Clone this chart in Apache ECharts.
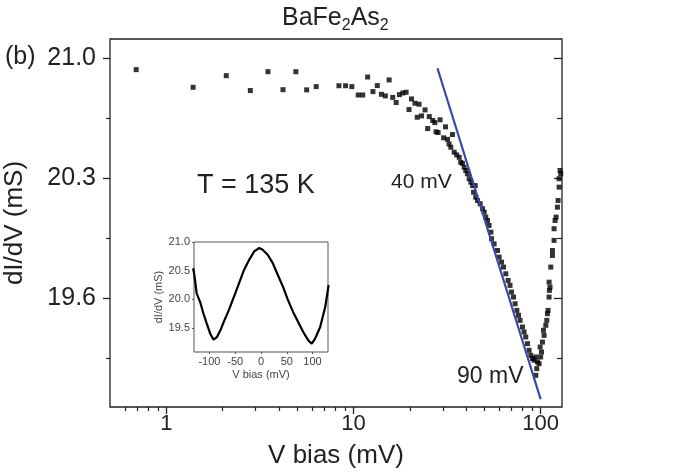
<!DOCTYPE html>
<html>
<head>
<meta charset="UTF-8">
<title>BaFe2As2 dI/dV</title>
<script src="https://cdn.jsdelivr.net/npm/echarts@6/dist/echarts.min.js"></script>
<style>
  html, body { margin: 0; padding: 0; background: #fff; }
  #main { width: 685px; height: 476px; }
</style>
</head>
<body>
<div id="main"></div>
<script>
  // main panel: dI/dV vs V bias (log), T = 135 K
  const vBias = [
    0.69, 1.39, 2.09, 2.81, 3.49, 4.20, 4.92, 5.62, 6.32, 8.36, 9.07, 9.80,
    10.6, 11.2, 11.9, 12.7, 13.4, 14.1, 14.8, 15.5, 16.2, 16.9, 17.6, 18.35,
    19.1, 19.8, 20.4, 21.3, 21.9, 22.4, 23.1, 24.1, 24.9, 25.4, 26.5, 27.2,
    27.6, 28.3, 29.0, 30.3, 31.0, 31.8, 32.4, 33.1, 33.8, 34.5, 35.6, 36.7,
    37.4, 38.2, 39.0, 39.8, 40.6, 41.5, 42.4, 43.3, 43.8, 44.7, 45.0, 46.0,
    47.5, 48.9, 49.9, 50.9, 52.0, 53.0, 54.2, 54.6, 56.4, 58.8, 60.0, 61.8,
    63.3, 65.1, 67.0, 68.6, 69.8, 71.6, 73.0, 74.6, 76.1, 77.6, 79.9, 81.5,
    83.2, 85.0, 86.7, 88.5, 90.4, 92.2, 94.2, 96.1, 98.1, 95.3, 94.2,
    100.0, 101.0, 99.3, 102.2, 104.3, 103.5, 106.5, 107.8, 108.7, 109.5, 110.9, 111.4,
    112.2, 110.9, 113.2, 115.6, 115.6, 117.9, 117.9, 119.4, 120.9, 122.9, 123.9, 125.4,
    125.4, 128.0, 126.9
  ];
  const dIdV = [
    20.934, 20.831, 20.899, 20.812, 20.922, 20.817, 20.922, 20.816, 20.835, 20.840, 20.840, 20.835,
    20.786, 20.786, 20.891, 20.806, 20.841, 20.790, 20.781, 20.874, 20.772, 20.742, 20.788, 20.798,
    20.802, 20.701, 20.763, 20.738, 20.656, 20.732, 20.664, 20.699, 20.590, 20.660, 20.637, 20.625,
    20.571, 20.567, 20.641, 20.536, 20.600, 20.527, 20.500, 20.481, 20.555, 20.452, 20.436, 20.422,
    20.393, 20.387, 20.364, 20.345, 20.326, 20.297, 20.277, 20.257, 20.218, 20.257, 20.189, 20.170,
    20.151, 20.122, 20.102, 20.073, 20.053, 20.024, 19.985, 19.947, 19.917, 19.878, 19.839, 19.810,
    19.781, 19.742, 19.703, 19.674, 19.635, 19.606, 19.567, 19.528, 19.499, 19.470, 19.431, 19.402,
    19.373, 19.334, 19.295, 19.266, 19.247, 19.237, 19.256, 19.227, 19.217, 19.188, 19.149,
    19.256, 19.285, 19.314, 19.343, 19.382, 19.412, 19.441, 19.470, 19.509, 19.528, 19.606, 19.645,
    19.664, 19.693, 19.781, 19.849, 19.878, 19.937, 20.005, 20.053, 20.073, 20.131, 20.170, 20.248,
    20.297, 20.326, 20.345
  ];
  // linear fit between 40 mV and 90 mV
  const fitV = [28.1, 100];
  const fitG = [20.942, 19.009];

  const xMajor = [1, 10, 100];
  const xMinor = [0.6, 0.7, 0.8, 0.9, 2, 3, 4, 5, 6, 7, 8, 9, 20, 30, 40, 50, 60, 70, 80, 90];
  const yMajor = [19.6, 20.3, 21.0];
  const yMinor = [19.25, 19.95, 20.65];

  // inset: full bias sweep
  const insetV = [
    -131.4, -128.0, -124.9, -118.2, -111.7, -105.2, -98.5, -92.0, -85.5, -78.8, -72.3, -62.4,
    -52.6, -42.7, -32.9, -23.0, -13.2, -3.3, 3.2, 13.0, 22.8, 32.7, 42.5, 52.4,
    62.2, 72.1, 81.9, 91.8, 98.5, 105.0, 114.8, 124.7, 131.2
  ];
  const insetG = [
    20.543, 20.337, 20.104, 19.956, 19.752, 19.576, 19.400, 19.295, 19.341, 19.459, 19.605, 19.810,
    20.044, 20.279, 20.513, 20.689, 20.835, 20.895, 20.865, 20.777, 20.631, 20.425, 20.220, 19.986,
    19.780, 19.605, 19.429, 19.283, 19.225, 19.313, 19.517, 19.868, 20.250
  ];
  const insetXTicks = [-100, -50, 0, 50, 100];
  const insetYTicks = [19.5, 20.0, 20.5, 21.0];

  const FONT = 'Liberation Sans';
  const INK = '#222';

  const chart = echarts.init(document.getElementById('main'), null, { renderer: 'canvas' });

  function tickAxis(extra) {
    return Object.assign({
      axisLine: { show: false, onZero: false },
      splitLine: { show: false },
      axisLabel: { show: false },
      axisTick: { show: false }
    }, extra);
  }

  chart.setOption({
    animation: false,
    backgroundColor: '#fff',
    title: {
      text: '{a|BaFe}{s|2}{a|As}{s|2}',
      left: 277,
      top: 1,
      textStyle: {
        fontWeight: 'normal',
        rich: {
          a: { fontFamily: FONT, fontSize: 25, fontWeight: 'normal', color: INK, lineHeight: 28, verticalAlign: 'top' },
          s: { fontFamily: FONT, fontSize: 16, fontWeight: 'normal', color: INK, lineHeight: 15, verticalAlign: 'bottom', padding: [19, 0, 0, 0] }
        }
      }
    },
    grid: [
      { left: 110, top: 39, width: 452, height: 368, outerBoundsMode: 'none', containLabel: false,
        show: true, borderColor: INK, borderWidth: 1.3, backgroundColor: 'transparent' },
      { left: 194, top: 242, width: 134, height: 110, outerBoundsMode: 'none', containLabel: false,
        show: true, borderColor: '#555', borderWidth: 1, backgroundColor: 'transparent' }
    ],
    xAxis: [
      tickAxis({
        gridIndex: 0, type: 'log', min: 0.5, max: 130, position: 'bottom',
        name: 'V bias (mV)', nameLocation: 'middle', nameGap: 36,
        nameTextStyle: { fontFamily: FONT, fontSize: 26, color: INK },
        axisTick: { show: true, length: 7, customValues: xMajor, lineStyle: { color: INK, width: 1.3 } },
        axisLabel: { show: true, customValues: xMajor, margin: 6, fontFamily: FONT, fontSize: 22, color: INK }
      }),
      tickAxis({
        gridIndex: 0, type: 'log', min: 0.5, max: 130, position: 'bottom',
        axisTick: { show: true, length: 4, customValues: xMinor, lineStyle: { color: INK, width: 1.2 } }
      }),
      tickAxis({
        gridIndex: 1, type: 'value', min: -130, max: 130, position: 'bottom',
        name: 'V bias (mV)', nameLocation: 'middle', nameGap: 17,
        nameTextStyle: { fontFamily: FONT, fontSize: 11, color: '#444' },
        axisTick: { show: true, length: 2, customValues: insetXTicks, lineStyle: { color: '#555' } },
        axisLabel: { show: true, customValues: insetXTicks, margin: 4, fontFamily: FONT, fontSize: 11, color: '#444' }
      })
    ],
    yAxis: [
      tickAxis({
        gridIndex: 0, type: 'value', min: 18.964, max: 21.113, position: 'left',
        name: 'dI/dV (mS)', nameLocation: 'middle', nameGap: 82,
        nameTextStyle: { fontFamily: FONT, fontSize: 26, color: INK },
        axisTick: { show: true, length: 7, customValues: yMajor, lineStyle: { color: INK, width: 1.3 } },
        axisLabel: { show: true, customValues: yMajor, margin: 14, fontFamily: FONT, fontSize: 25, color: INK,
          formatter: v => v.toFixed(1) }
      }),
      tickAxis({
        gridIndex: 0, type: 'value', min: 18.964, max: 21.113, position: 'left',
        axisTick: { show: true, length: 4, customValues: yMinor, lineStyle: { color: INK, width: 1.2 } }
      }),
      tickAxis({
        gridIndex: 0, type: 'value', min: 18.964, max: 21.113, position: 'right',
        axisTick: { show: true, inside: true, length: 8, customValues: yMajor, lineStyle: { color: INK, width: 1.3 } }
      }),
      tickAxis({
        gridIndex: 0, type: 'value', min: 18.964, max: 21.113, position: 'right',
        axisTick: { show: true, inside: true, length: 5, customValues: yMinor, lineStyle: { color: INK, width: 1.2 } }
      }),
      tickAxis({
        gridIndex: 1, type: 'value', min: 19.08, max: 21.0, position: 'left',
        name: 'dI/dV (mS)', nameLocation: 'middle', nameGap: 30,
        nameTextStyle: { fontFamily: FONT, fontSize: 11, color: '#444' },
        axisTick: { show: true, length: 2, customValues: insetYTicks, lineStyle: { color: '#555' } },
        axisLabel: { show: true, customValues: insetYTicks, margin: 4, fontFamily: FONT, fontSize: 11, color: '#444',
          formatter: v => v.toFixed(1) }
      })
    ],
    graphic: [
      { type: 'text', left: 5, top: 45, style: { text: '(b)', font: '25px "Liberation Sans"', fill: INK } },
      { type: 'text', left: 197, top: 172, style: { text: 'T = 135 K', font: '27px "Liberation Sans"', fill: INK } },
      { type: 'text', left: 391, top: 172, style: { text: '40 mV', font: '21px "Liberation Sans"', fill: INK } },
      { type: 'text', left: 457, top: 365, style: { text: '90 mV', font: '23px "Liberation Sans"', fill: INK } }
    ],
    series: [
      {
        type: 'scatter', xAxisIndex: 0, yAxisIndex: 0,
        symbol: 'rect', symbolSize: 5,
        itemStyle: { color: '#000' },
        data: vBias.map((v, i) => [v, dIdV[i]])
      },
      {
        type: 'line', xAxisIndex: 0, yAxisIndex: 0,
        symbol: 'none',
        lineStyle: { color: '#3a47a5', width: 2.2 },
        data: fitV.map((v, i) => [v, fitG[i]])
      },
      {
        type: 'line', xAxisIndex: 2, yAxisIndex: 4,
        symbol: 'none',
        lineStyle: { color: '#000', width: 2.2 },
        data: insetV.map((v, i) => [v, insetG[i]])
      }
    ]
  });
</script>
</body>
</html>
